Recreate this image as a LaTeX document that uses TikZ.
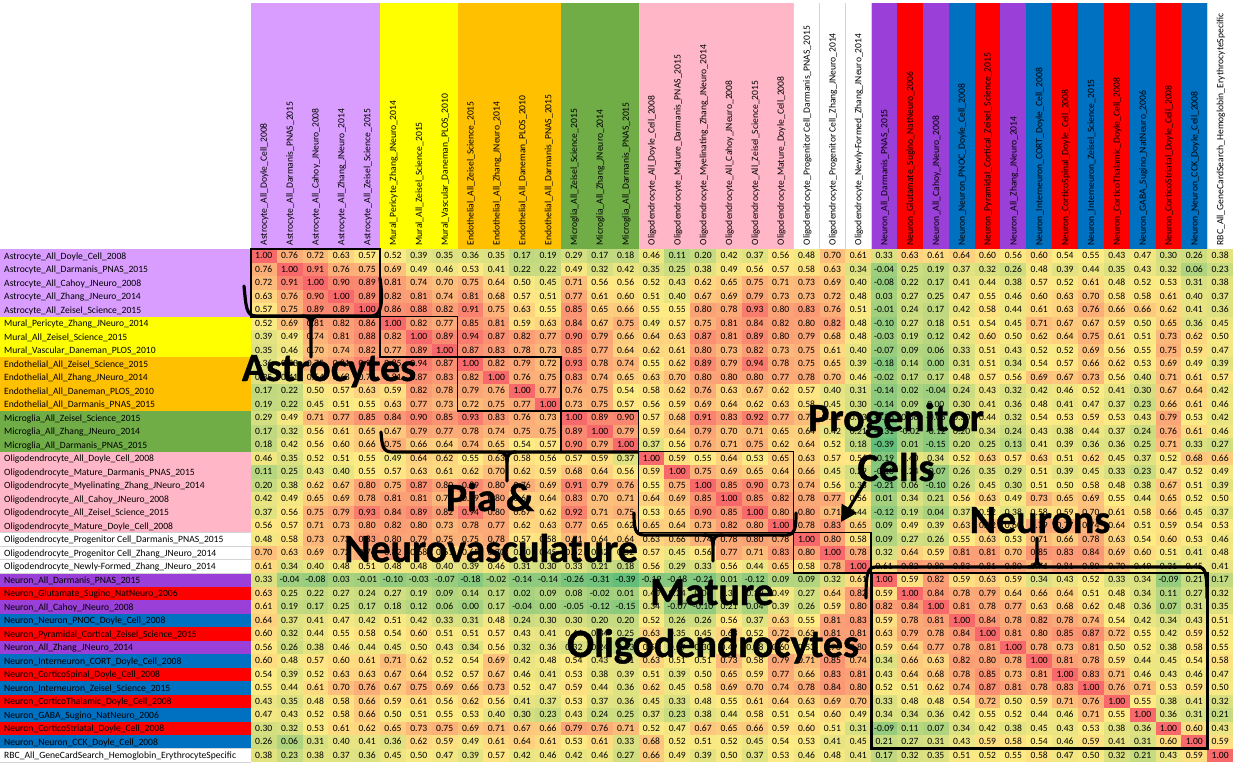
\documentclass[tikz,border=0pt]{standalone}
\usepackage{fontspec}
\setmainfont{Carlito}
\usetikzlibrary{arrows.meta}
\definecolor{hmGreen}{HTML}{63BE7B}
\definecolor{hmYellow}{HTML}{FFEB84}
\definecolor{hmRed}{HTML}{F8696B}
\definecolor{cAstro}{HTML}{D99DFF}
\definecolor{cMural}{HTML}{FFFF00}
\definecolor{cEndo}{HTML}{FFC000}
\definecolor{cMicro}{HTML}{70AD47}
\definecolor{cOligo}{HTML}{FFB7C8}
\definecolor{cNpur}{HTML}{9A40D9}
\definecolor{cNred}{HTML}{FF0000}
\definecolor{cNblu}{HTML}{0070C0}
\definecolor{cWhite}{HTML}{FFFFFF}
\definecolor{sepgray}{HTML}{D4D4D4}
\newcommand\hmcell[3]{%
  \pgfmathsetmacro\hmxl{250.8+(#2-1)*25.85}%
  \pgfmathsetmacro\hmyt{249+(#1-1)*13.5}%
  \ifdim #3pt<0.55pt
    \pgfmathsetmacro\hmt{100*(#3+0.39)/0.94}%
    \colorlet{hmc}{hmYellow!\hmt!hmGreen}%
  \else
    \pgfmathsetmacro\hmt{100*(#3-0.55)/0.45}%
    \colorlet{hmc}{hmRed!\hmt!hmYellow}%
  \fi
  \fill[hmc] (\hmxl,\hmyt) rectangle ++(25.85,13.5);
  \node[cellnum] (v-#1-#2) at (\hmxl+12.925,\hmyt+6.75) {#3};
}
\newcommand\hmrow[2]{%
  \foreach \hmv [count=\hmk] in {#2} {%
    \pgfmathtruncatemacro\hmcol{#1+\hmk-1}%
    \hmcell{#1}{\hmcol}{\hmv}%
    \ifnum\hmcol=#1\relax\else\hmcell{\hmcol}{#1}{\hmv}\fi
  }%
}
\begin{document}
\begin{tikzpicture}[x=1bp,y=-1bp,
  cellnum/.style={font=\fontsize{9.6bp}{11bp}\selectfont, inner sep=0pt},
  lab/.style={font=\fontsize{9.6bp}{11bp}\selectfont, inner sep=0pt},
  big/.style={font=\fontsize{40bp}{40bp}\selectfont\bfseries\addfontfeature{FakeBold=1}, inner sep=0pt, anchor=base},
  boxthick/.style={line width=2.6bp},
  boxthin/.style={line width=1.6bp},
  brc/.style={line width=3.2bp, line cap=round, line join=round},
  arr/.style={line width=3.2bp, -{Triangle[length=16bp,width=17bp]}}]
\useasboundingbox (0,0) rectangle (1234,765);
\fill[white] (0,0) rectangle (1234,765);
% labels and headers
\foreach \r/\cc/\txt in {
1/cAstro/Astrocyte\_All\_Doyle\_Cell\_2008,
2/cAstro/Astrocyte\_All\_Darmanis\_PNAS\_2015,
3/cAstro/Astrocyte\_All\_Cahoy\_JNeuro\_2008,
4/cAstro/Astrocyte\_All\_Zhang\_JNeuro\_2014,
5/cAstro/Astrocyte\_All\_Zeisel\_Science\_2015,
6/cMural/Mural\_Pericyte\_Zhang\_JNeuro\_2014,
7/cMural/Mural\_All\_Zeisel\_Science\_2015,
8/cMural/Mural\_Vascular\_Daneman\_PLOS\_2010,
9/cEndo/Endothelial\_All\_Zeisel\_Science\_2015,
10/cEndo/Endothelial\_All\_Zhang\_JNeuro\_2014,
11/cEndo/Endothelial\_All\_Daneman\_PLOS\_2010,
12/cEndo/Endothelial\_All\_Darmanis\_PNAS\_2015,
13/cMicro/Microglia\_All\_Zeisel\_Science\_2015,
14/cMicro/Microglia\_All\_Zhang\_JNeuro\_2014,
15/cMicro/Microglia\_All\_Darmanis\_PNAS\_2015,
16/cOligo/Oligodendrocyte\_All\_Doyle\_Cell\_2008,
17/cOligo/Oligodendrocyte\_Mature\_Darmanis\_PNAS\_2015,
18/cOligo/Oligodendrocyte\_Myelinating\_Zhang\_JNeuro\_2014,
19/cOligo/Oligodendrocyte\_All\_Cahoy\_JNeuro\_2008,
20/cOligo/Oligodendrocyte\_All\_Zeisel\_Science\_2015,
21/cOligo/Oligodendrocyte\_Mature\_Doyle\_Cell\_2008,
22/cWhite/Oligodendrocyte\_Progenitor Cell\_Darmanis\_PNAS\_2015,
23/cWhite/Oligodendrocyte\_Progenitor Cell\_Zhang\_JNeuro\_2014,
24/cWhite/Oligodendrocyte\_Newly-Formed\_Zhang\_JNeuro\_2014,
25/cNpur/Neuron\_All\_Darmanis\_PNAS\_2015,
26/cNred/Neuron\_Glutamate\_Sugino\_NatNeuro\_2006,
27/cNpur/Neuron\_All\_Cahoy\_JNeuro\_2008,
28/cNblu/Neuron\_Neuron\_PNOC\_Doyle\_Cell\_2008,
29/cNred/Neuron\_Pyramidal\_Cortical\_Zeisel\_Science\_2015,
30/cNpur/Neuron\_All\_Zhang\_JNeuro\_2014,
31/cNblu/Neuron\_Interneuron\_CORT\_Doyle\_Cell\_2008,
32/cNred/Neuron\_CorticoSpinal\_Doyle\_Cell\_2008,
33/cNblu/Neuron\_Interneuron\_Zeisel\_Science\_2015,
34/cNred/Neuron\_CorticoThalamic\_Doyle\_Cell\_2008,
35/cNblu/Neuron\_GABA\_Sugino\_NatNeuro\_2006,
36/cNred/Neuron\_CorticoStriatal\_Doyle\_Cell\_2008,
37/cNblu/Neuron\_Neuron\_CCK\_Doyle\_Cell\_2008,
38/cWhite/RBC\_All\_GeneCardSearch\_Hemoglobin\_ErythrocyteSpecific}{
  \pgfmathsetmacro\yt{249+(\r-1)*13.5}
  \pgfmathsetmacro\xl{250.8+(\r-1)*25.85}
  \fill[fill=\cc] (0,\yt) rectangle (250.8,\yt+13.5);
  \fill[fill=\cc] (\xl,3) rectangle (\xl+25.85,249);
  \node[lab, anchor=base west] (l\r) at (4,\yt+10.1) {\txt};
  \node[lab, rotate=90, anchor=base west] (h\r) at (\xl+16.1,245.5) {\txt};
}
% separators of the white label cells
\foreach \r in {22,23,24,25,38,39}{
  \draw[sepgray, line width=0.6bp] (0,{249+(\r-1)*13.5}) -- (250.8,{249+(\r-1)*13.5});
}
\foreach \c in {22,23,24,25,38}{
  \draw[sepgray, line width=0.6bp] ({250.8+(\c-1)*25.85},3) -- ({250.8+(\c-1)*25.85},249);
}
% matrix (upper triangle, mirrored)
\hmrow{1}{1.00,0.76,0.72,0.63,0.57,0.52,0.39,0.35,0.36,0.35,0.17,0.19,0.29,0.17,0.18,0.46,0.11,0.20,0.42,0.37,0.56,0.48,0.70,0.61,0.33,0.63,0.61,0.64,0.60,0.56,0.60,0.54,0.55,0.43,0.47,0.30,0.26,0.38}
\hmrow{2}{1.00,0.91,0.76,0.75,0.69,0.49,0.46,0.53,0.41,0.22,0.22,0.49,0.32,0.42,0.35,0.25,0.38,0.49,0.56,0.57,0.58,0.63,0.34,-0.04,0.25,0.19,0.37,0.32,0.26,0.48,0.39,0.44,0.35,0.43,0.32,0.06,0.23}
\hmrow{3}{1.00,0.90,0.89,0.81,0.74,0.70,0.75,0.64,0.50,0.45,0.71,0.56,0.56,0.52,0.43,0.62,0.65,0.75,0.71,0.73,0.69,0.40,-0.08,0.22,0.17,0.41,0.44,0.38,0.57,0.52,0.61,0.48,0.52,0.53,0.31,0.38}
\hmrow{4}{1.00,0.89,0.82,0.81,0.74,0.81,0.68,0.57,0.51,0.77,0.61,0.60,0.51,0.40,0.67,0.69,0.79,0.73,0.73,0.72,0.48,0.03,0.27,0.25,0.47,0.55,0.46,0.60,0.63,0.70,0.58,0.58,0.61,0.40,0.37}
\hmrow{5}{1.00,0.86,0.88,0.82,0.91,0.75,0.63,0.55,0.85,0.65,0.66,0.55,0.55,0.80,0.78,0.93,0.80,0.83,0.76,0.51,-0.01,0.24,0.17,0.42,0.58,0.44,0.61,0.63,0.76,0.66,0.66,0.62,0.41,0.36}
\hmrow{6}{1.00,0.82,0.77,0.85,0.81,0.59,0.63,0.84,0.67,0.75,0.49,0.57,0.75,0.81,0.84,0.82,0.80,0.82,0.48,-0.10,0.27,0.18,0.51,0.54,0.45,0.71,0.67,0.67,0.59,0.50,0.65,0.36,0.45}
\hmrow{7}{1.00,0.89,0.94,0.87,0.82,0.77,0.90,0.79,0.66,0.64,0.63,0.87,0.81,0.89,0.80,0.79,0.68,0.48,-0.03,0.19,0.12,0.42,0.60,0.50,0.62,0.64,0.75,0.61,0.51,0.73,0.62,0.50}
\hmrow{8}{1.00,0.87,0.83,0.78,0.73,0.85,0.77,0.64,0.62,0.61,0.80,0.73,0.82,0.73,0.75,0.61,0.40,-0.07,0.09,0.06,0.33,0.51,0.43,0.52,0.52,0.69,0.56,0.55,0.75,0.59,0.47}
\hmrow{9}{1.00,0.82,0.79,0.72,0.93,0.78,0.74,0.55,0.62,0.89,0.79,0.94,0.78,0.75,0.65,0.39,-0.18,0.14,0.00,0.31,0.51,0.34,0.54,0.57,0.66,0.62,0.53,0.69,0.49,0.39}
\hmrow{10}{1.00,0.76,0.75,0.83,0.74,0.65,0.63,0.70,0.80,0.80,0.80,0.77,0.78,0.70,0.46,-0.02,0.17,0.17,0.48,0.57,0.56,0.69,0.67,0.73,0.56,0.40,0.71,0.61,0.57}
\hmrow{11}{1.00,0.77,0.76,0.75,0.54,0.58,0.62,0.76,0.63,0.67,0.62,0.57,0.40,0.31,-0.14,0.02,-0.04,0.24,0.43,0.32,0.42,0.46,0.52,0.41,0.30,0.67,0.64,0.42}
\hmrow{12}{1.00,0.73,0.75,0.57,0.56,0.59,0.69,0.64,0.62,0.63,0.58,0.45,0.30,-0.14,0.09,0.00,0.30,0.41,0.36,0.48,0.41,0.47,0.37,0.23,0.66,0.61,0.46}
\hmrow{13}{1.00,0.89,0.90,0.57,0.68,0.91,0.83,0.92,0.77,0.71,0.62,0.33,-0.26,0.08,-0.05,0.30,0.44,0.32,0.54,0.53,0.59,0.53,0.43,0.79,0.53,0.42}
\hmrow{14}{1.00,0.79,0.59,0.64,0.79,0.70,0.71,0.65,0.64,0.42,0.21,-0.31,-0.02,-0.12,0.20,0.34,0.24,0.43,0.38,0.44,0.37,0.24,0.76,0.61,0.46}
\hmrow{15}{1.00,0.37,0.56,0.76,0.71,0.75,0.62,0.64,0.52,0.18,-0.39,0.01,-0.15,0.20,0.25,0.13,0.41,0.39,0.36,0.36,0.25,0.71,0.33,0.27}
\hmrow{16}{1.00,0.59,0.55,0.64,0.53,0.65,0.63,0.57,0.56,-0.19,0.40,0.34,0.52,0.63,0.57,0.63,0.51,0.62,0.45,0.37,0.52,0.68,0.66}
\hmrow{17}{1.00,0.75,0.69,0.65,0.64,0.66,0.45,0.29,-0.18,0.24,-0.07,0.26,0.35,0.29,0.51,0.39,0.45,0.33,0.23,0.47,0.52,0.49}
\hmrow{18}{1.00,0.85,0.90,0.73,0.74,0.56,0.33,-0.21,0.06,-0.10,0.26,0.45,0.30,0.51,0.50,0.58,0.48,0.38,0.67,0.51,0.39}
\hmrow{19}{1.00,0.85,0.82,0.78,0.77,0.56,0.01,0.34,0.21,0.56,0.63,0.49,0.73,0.65,0.69,0.55,0.44,0.65,0.52,0.50}
\hmrow{20}{1.00,0.80,0.80,0.71,0.44,-0.12,0.19,0.04,0.37,0.52,0.38,0.58,0.59,0.70,0.61,0.58,0.66,0.45,0.37}
\hmrow{21}{1.00,0.78,0.83,0.65,0.09,0.49,0.39,0.63,0.72,0.60,0.79,0.77,0.74,0.64,0.51,0.59,0.54,0.53}
\hmrow{22}{1.00,0.80,0.58,0.09,0.27,0.26,0.55,0.63,0.53,0.71,0.66,0.78,0.63,0.54,0.60,0.53,0.46}
\hmrow{23}{1.00,0.78,0.32,0.64,0.59,0.81,0.81,0.70,0.85,0.83,0.84,0.69,0.60,0.51,0.41,0.48}
\hmrow{24}{1.00,0.61,0.82,0.80,0.83,0.81,0.80,0.74,0.81,0.80,0.70,0.49,0.31,0.45,0.41}
\hmrow{25}{1.00,0.59,0.82,0.59,0.63,0.59,0.34,0.43,0.52,0.33,0.34,-0.09,0.21,0.17}
\hmrow{26}{1.00,0.84,0.78,0.79,0.64,0.66,0.64,0.51,0.48,0.34,0.11,0.27,0.32}
\hmrow{27}{1.00,0.81,0.78,0.77,0.63,0.68,0.62,0.48,0.36,0.07,0.31,0.35}
\hmrow{28}{1.00,0.84,0.78,0.82,0.78,0.74,0.54,0.42,0.34,0.43,0.51}
\hmrow{29}{1.00,0.81,0.80,0.85,0.87,0.72,0.55,0.42,0.59,0.52}
\hmrow{30}{1.00,0.78,0.73,0.81,0.50,0.52,0.38,0.58,0.55}
\hmrow{31}{1.00,0.81,0.78,0.59,0.44,0.45,0.54,0.58}
\hmrow{32}{1.00,0.83,0.71,0.46,0.43,0.46,0.47}
\hmrow{33}{1.00,0.76,0.71,0.53,0.59,0.50}
\hmrow{34}{1.00,0.55,0.38,0.41,0.32}
\hmrow{35}{1.00,0.36,0.31,0.21}
\hmrow{36}{1.00,0.60,0.43}
\hmrow{37}{1.00,0.59}
\hmrow{38}{1.00}
% block outlines
\draw[boxthick] (250.8,249) rectangle (380.05,316.5);
\draw[boxthin] (380.05,316.5) rectangle (457.6,357);
\draw[boxthin] (457.6,357) rectangle (561.0,411);
\draw[boxthin] (561.0,411) rectangle (638.55,451.5);
\draw[boxthin] (638.55,451.5) rectangle (793.65,532.5);
\draw[boxthin] (793.65,532.5) rectangle (871.2,573);
\draw[boxthick] (871.2,573) rectangle (1207.25,748.5);
% braces
\draw[brc] (244,286) .. controls (246,306) and (246,316) .. (256,316) -- (372,316) .. controls (382,316) and (383,300) .. (380,278);
\draw[brc] (302,316) .. controls (309,316) and (311,319) .. (311,327) -- (311,357);
\draw[brc] (320,316) .. controls (313,316) and (311,319) .. (311,327);
\draw[brc] (381,432) .. controls (382,446) and (383,452) .. (392,452) -- (638,452);
\draw[brc] (498,452) .. controls (505,452) and (507,455) .. (507,462) -- (507,481);
\draw[brc] (516,452) .. controls (509,452) and (507,455) .. (507,462);
\draw[brc] (634,513) .. controls (634,528) and (635,535) .. (644,535) -- (786,535) .. controls (795,535) and (796,528) .. (796,513);
\draw[brc] (704,535) .. controls (711,535) and (713,538) .. (713,545) -- (713,561);
\draw[brc] (722,535) .. controls (715,535) and (713,538) .. (713,545);
\draw[brc] (866,598) .. controls (866,575) and (867,567) .. (876,567) -- (1198,567) .. controls (1206,567) and (1207,575) .. (1207,598);
\draw[brc] (1028,567) .. controls (1035,567) and (1037,564) .. (1037,558) -- (1037,538);
\draw[brc] (1046,567) .. controls (1039,567) and (1037,564) .. (1037,558);
% annotation texts
\node[big] (tAstro) at (329,381) {Astrocytes};
\node[big] (tPia) at (490,511) {Pia \&};
\node[big] (tNeurovasc) at (491,562) {Neurovasculature};
\node[big] (tProg) at (896,431) {Progenitor};
\node[big] (tCells) at (896,481) {Cells};
\node[big] (tMature) at (712,605) {Mature};
\node[big] (tOligo) at (713,657) {Oligodendrocytes};
\node[big] (tNeurons) at (1040,533) {Neurons};
\coordinate (progtip) at (841,522);
\draw[arr] ([xshift=8bp]tCells.south west) -- (progtip);
\end{tikzpicture}
\end{document}
